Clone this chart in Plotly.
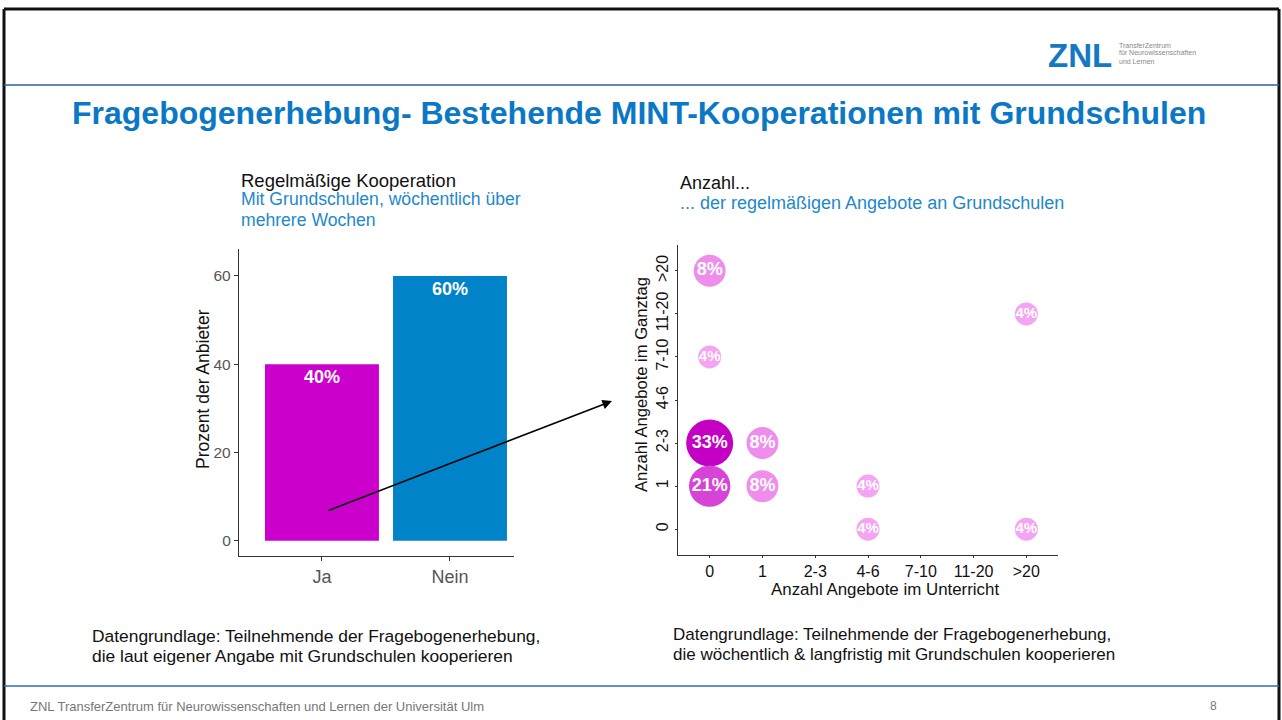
import plotly.graph_objects as go
import math

# ---------------- data ----------------
bar_categories = ["Ja", "Nein"]
bar_values = [40, 60]
bar_colors = ["#cc00cc", "#0083c9"]
bar_yticks = [0, 20, 40, 60]

levels = ["0", "1", "2-3", "4-6", "7-10", "11-20", ">20"]
bubble_unterricht = ["0", ">20", "0", "0", "1", "0", "1", "4-6", "4-6", ">20"]
bubble_ganztag = [">20", "11-20", "7-10", "2-3", "2-3", "1", "1", "1", "0", "0"]
bubble_pct = [8, 4, 4, 33, 8, 21, 8, 4, 4, 4]

W, H = 1282, 720
FONT = "Liberation Sans, Arial, sans-serif"


def px(x):
    return x / W


def py(y):
    return 1 - y / H


fig = go.Figure()

# ---------------- left: bar chart ----------------
fig.add_trace(go.Bar(
    x=bar_categories, y=bar_values,
    marker=dict(color=bar_colors, line=dict(width=0)),
    width=0.89,
    text=[f"<b>{v}%</b>" for v in bar_values],
    textposition="inside", insidetextanchor="end",
    textfont=dict(color="white", size=18, family=FONT),
    xaxis="x", yaxis="y", showlegend=False, hoverinfo="x+y",
))

# ---------------- right: bubble chart ----------------
vmin, vmax = min(bubble_pct), max(bubble_pct)
sizes = [23 + 24 * math.sqrt((v - vmin) / (vmax - vmin)) for v in bubble_pct]
label_sizes = [15 if v <= vmin else 18 for v in bubble_pct]
fig.add_trace(go.Scatter(
    x=bubble_unterricht, y=bubble_ganztag,
    mode="markers+text",
    marker=dict(size=sizes, sizemode="diameter", color=bubble_pct,
                cmin=vmin, cmax=vmax,
                colorscale=[[0, "#f5a3f3"], [1, "#c300c3"]],
                line=dict(width=0), opacity=1),
    text=[f"<b>{v}%</b>" for v in bubble_pct],
    textposition="middle center",
    textfont=dict(color="white", size=label_sizes, family=FONT),
    xaxis="x2", yaxis="y2", showlegend=False,
))

axis_line = dict(showline=True, linecolor="#333333", linewidth=1.3,
                 showgrid=False, zeroline=False, ticks="outside",
                 tickcolor="#333333", tickwidth=1)

fig.update_layout(
    width=W, height=H,
    margin=dict(l=0, r=0, t=0, b=0),
    paper_bgcolor="white", plot_bgcolor="white",
    font=dict(family=FONT, color="#000000"),
    xaxis=dict(domain=[px(239), px(514)], anchor="y",
               range=[-0.648, 1.5], type="category", ticklen=4,
               tickfont=dict(size=18, color="#555555"), **axis_line),
    yaxis=dict(domain=[py(556), py(249)], anchor="x",
               range=[-3.47, 66.1], tickvals=bar_yticks, ticklen=4,
               tickfont=dict(size=15.5, color="#555555"), **axis_line),
    xaxis2=dict(domain=[px(678), px(1058)], anchor="y2",
                type="category", categoryorder="array", categoryarray=levels,
                range=[-0.6, 6.6], ticklen=2,
                tickfont=dict(size=16, color="#111111"), **axis_line),
    yaxis2=dict(domain=[py(555), py(245)], anchor="x2",
                type="category", categoryorder="array", categoryarray=levels,
                range=[-0.6, 6.6], tickangle=-90, ticklen=2,
                tickfont=dict(size=16, color="#111111"), **axis_line),
)

annotations = []


def text(x, y, s, size, color="#111111", xanchor="left", bold=False,
         angle=0, family=FONT):
    annotations.append(dict(
        x=px(x), y=py(y), xref="paper", yref="paper",
        text=f"<b>{s}</b>" if bold else s, showarrow=False,
        xanchor=xanchor, yanchor="middle", textangle=angle,
        font=dict(size=size, color=color, family=family)))


BLUE = "#0b78c6"
SUB = "#1e88cc"

# header
text(1046, 56, "ZNL", 33, color="#1479c2", bold=True)
text(1117, 45, "TransferZentrum", 7, color="#888888")
text(1117, 53, "für Neurowissenschaften", 7, color="#888888")
text(1117, 61, "und Lernen", 7, color="#888888")
text(639, 113, "Fragebogenerhebung- Bestehende MINT-Kooperationen mit Grundschulen",
     32, color=BLUE, xanchor="center", bold=True)

# left titles
text(239, 180, "Regelmäßige Kooperation", 18.5)
text(239, 199, "Mit Grundschulen, wöchentlich über", 17.6, color=SUB)
text(239, 220, "mehrere Wochen", 17.6, color=SUB)
text(203, 389, "Prozent der Anbieter", 17.5, xanchor="center", angle=-90)

# right titles
text(678, 183, "Anzahl...", 18)
text(678, 203, "... der regelmäßigen Angebote an Grundschulen", 18, color=SUB)
text(885, 589, "Anzahl Angebote im Unterricht", 16.9, xanchor="center")
text(641, 385, "Anzahl Angebote im Ganztag", 16.6, xanchor="center", angle=-90)

# notes
text(90, 636, "Datengrundlage: Teilnehmende der Fragebogenerhebung,", 17.4)
text(90, 656, "die laut eigener Angabe mit Grundschulen kooperieren", 17.4)
text(671, 634, "Datengrundlage: Teilnehmende der Fragebogenerhebung,", 17.0)
text(671, 654, "die wöchentlich & langfristig mit Grundschulen kooperieren", 17.0)

# footer
text(28, 706, "ZNL TransferZentrum für Neurowissenschaften und Lernen der Universität Ulm",
     13, color="#777777")
text(1213, 706, "8", 12, color="#777777", xanchor="center")

# arrow
annotations.append(dict(
    x=px(612), y=py(401), xref="paper", yref="paper",
    ax=327 - 612, ay=511 - 401, text="", showarrow=True,
    arrowhead=2, arrowsize=1.2, arrowwidth=1.6, arrowcolor="black"))

fig.update_layout(annotations=annotations)


def line(x0, y0, x1, y1, color, width):
    return dict(type="line", xref="paper", yref="paper",
                x0=px(x0), y0=py(y0), x1=px(x1), y1=py(y1),
                line=dict(color=color, width=width), layer="above")


fig.update_layout(shapes=[
    line(4, 9, 1279, 9, "#111111", 3),
    line(4, 9, 4, 720, "#111111", 3),
    line(1279, 9, 1279, 720, "#111111", 3),
    line(4, 85, 1279, 85, "#2f5f9e", 1.5),
    line(4, 686, 1279, 686, "#2a6ebb", 1.5),
])

fig.write_html("out.html", config={"displayModeBar": False},
               post_script="document.body.style.margin='0';document.body.style.overflow='hidden';")
